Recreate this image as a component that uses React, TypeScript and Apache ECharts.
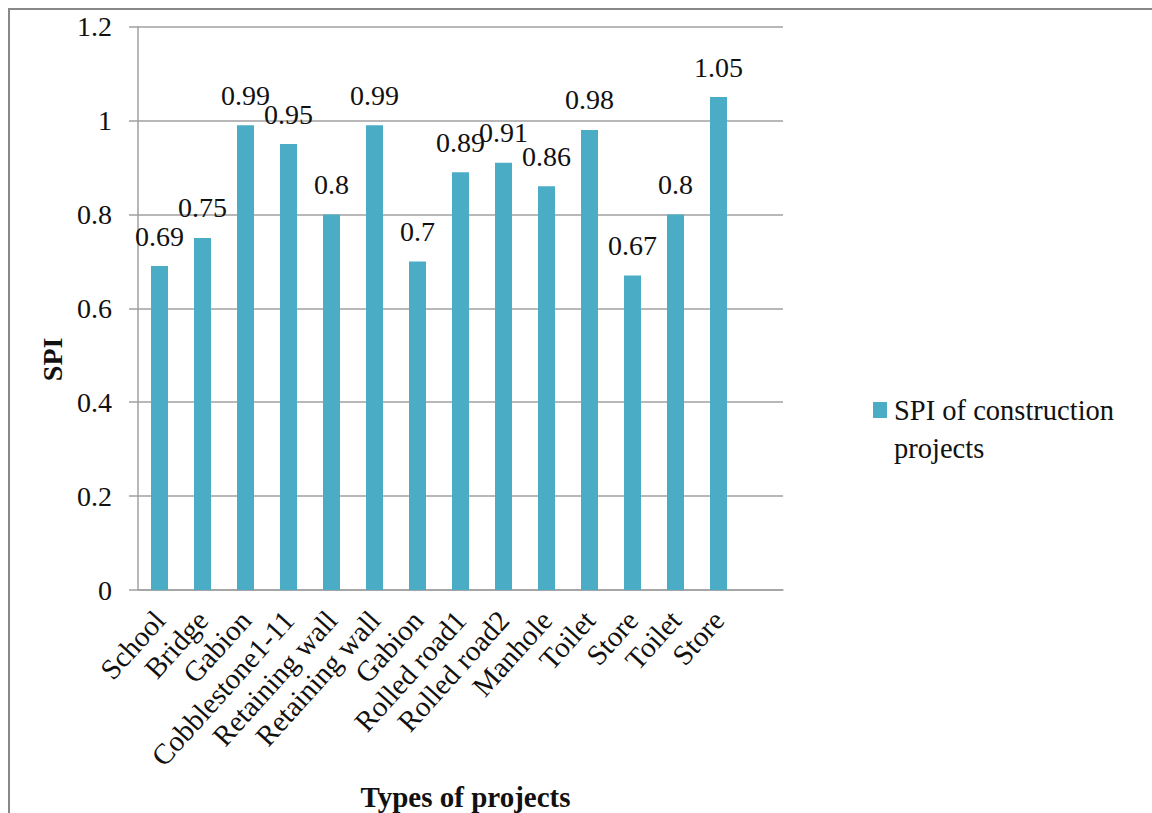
import React, { useEffect, useRef } from "react";
import * as echarts from "echarts";

const categories: string[] = [
  "School", "Bridge", "Gabion", "Cobblestone1-11", "Retaining wall", "Retaining wall",
  "Gabion", "Rolled road1", "Rolled road2", "Manhole", "Toilet", "Store", "Toilet", "Store", "",
];
const spiValues: (number | null)[] = [
  0.69, 0.75, 0.99, 0.95, 0.8, 0.99, 0.7, 0.89, 0.91, 0.86, 0.98, 0.67, 0.8, 1.05, null,
];
const seriesName = "SPI of construction projects";
const yTicks = { min: 0, max: 1.2, interval: 0.2 };

const FONT = "Liberation Serif, Times New Roman, serif";
const FS = 28;
const TEXT = "#111111";
const AXIS = "#a0a0a0";

export default function App() {
  const ref = useRef<HTMLDivElement>(null);
  useEffect(() => {
    if (!ref.current) return;
    const chart = echarts.init(ref.current, undefined, { renderer: "svg" });
    chart.setOption({
      animation: false,
      backgroundColor: "#ffffff",
      textStyle: { fontFamily: FONT },
      graphic: [
        {
          type: "rect",
          shape: { x: 9, y: 9, width: 1200, height: 900 },
          style: { fill: "none", stroke: "#888888", lineWidth: 2 },
          silent: true,
          z: -1,
        },
      ],
      grid: {
        left: 138,
        right: 369,
        top: 26.7,
        bottom: 223,
        containLabel: false,
        outerBoundsMode: "none",
      },
      legend: {
        show: true,
        left: 873,
        top: 353,
        padding: 0,
        icon: "rect",
        itemWidth: 14,
        itemHeight: 16,
        itemGap: 6,
        formatter: () => "\nSPI of construction\nprojects",
        textStyle: {
          fontFamily: FONT,
          fontSize: 28.5,
          color: TEXT,
          lineHeight: 38,
          padding: [0, 0, 0, 2],
        },
        data: [seriesName],
      },
      xAxis: {
        type: "category",
        data: categories,
        name: "Types of projects",
        nameLocation: "middle",
        nameGap: 192,
        nameTextStyle: {
          fontFamily: FONT,
          fontSize: 29,
          fontWeight: "bold",
          color: TEXT,
          padding: [0, 0, 0, 10],
        },
        axisLine: { show: true, lineStyle: { color: AXIS, width: 1.5 } },
        axisTick: { show: false },
        axisLabel: {
          interval: 0,
          rotate: 48,
          margin: 25,
          padding: [17, 0, 0, 0],
          fontFamily: FONT,
          fontSize: 29,
          color: TEXT,
        },
      },
      yAxis: {
        type: "value",
        min: yTicks.min,
        max: yTicks.max,
        interval: yTicks.interval,
        name: "SPI",
        nameLocation: "middle",
        nameGap: 67,
        nameTextStyle: {
          fontFamily: FONT,
          fontSize: FS,
          fontWeight: "bold",
          color: TEXT,
          padding: [0, 102, 0, 0],
        },
        axisLine: { show: true, lineStyle: { color: AXIS, width: 1.5 } },
        axisTick: { show: true, inside: false, length: 9, lineStyle: { color: AXIS, width: 1.5 } },
        splitLine: { show: true, lineStyle: { color: AXIS, width: 1.5 } },
        axisLabel: {
          margin: 26,
          fontFamily: FONT,
          fontSize: FS,
          color: TEXT,
        },
      },
      series: [
        {
          name: seriesName,
          type: "bar",
          data: spiValues,
          barWidth: 17,
          itemStyle: { color: "#4BACC6" },
          label: {
            show: true,
            position: "top",
            distance: 16,
            fontFamily: FONT,
            fontSize: FS,
            color: TEXT,
          },
        },
      ],
    });
    return () => chart.dispose();
  }, []);
  return (
    <div
      ref={ref}
      style={{ position: "fixed", left: 0, top: 0, width: 1152, height: 813 }}
    />
  );
}
